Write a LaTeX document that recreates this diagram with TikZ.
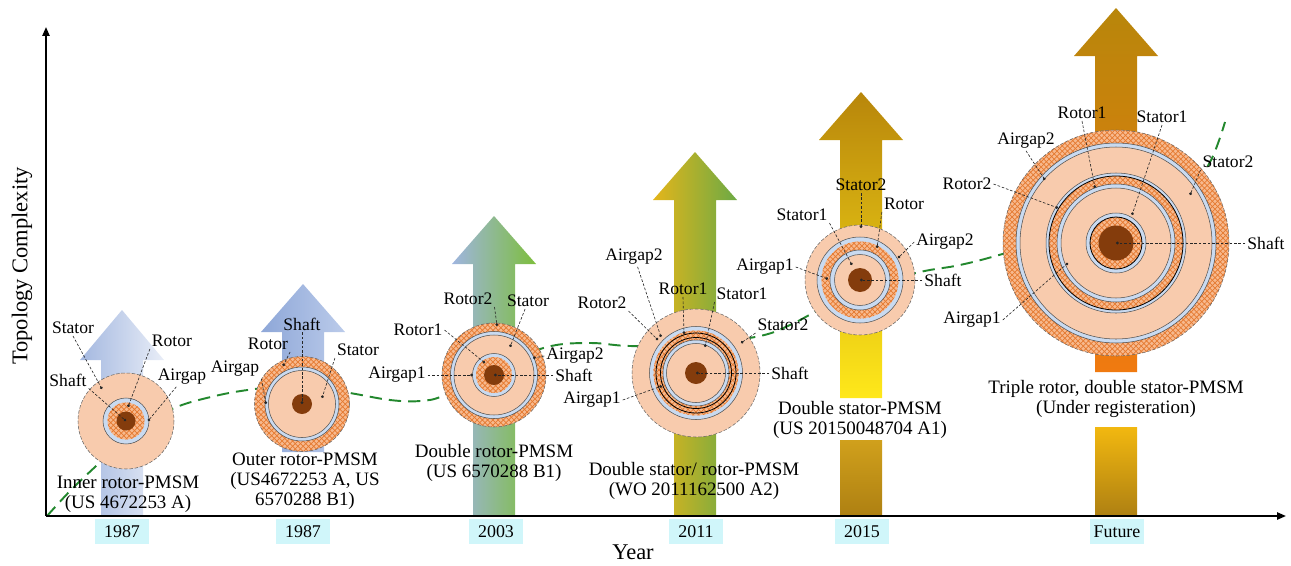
\documentclass[tikz,border=0pt]{standalone}
\usepackage{fontspec}
\setmainfont{Liberation Serif}
\usetikzlibrary{patterns,arrows.meta}

\definecolor{peach}{HTML}{F8CBAD}
\definecolor{rotorbase}{HTML}{F7B98E}
\definecolor{rotorline}{HTML}{E57A30}
\definecolor{gapblue}{HTML}{C9DAF0}
\definecolor{ringline}{HTML}{505050}
\definecolor{shaftbrown}{HTML}{843C0C}
\definecolor{trend}{HTML}{23882E}
\definecolor{yearcyan}{HTML}{D0F6FA}
\definecolor{gold}{HTML}{B8860B}
\definecolor{aOneL}{HTML}{A4B8E0}
\definecolor{aOneR}{HTML}{E8EDF7}
\definecolor{aTwoL}{HTML}{8EA7D8}
\definecolor{aTwoR}{HTML}{BBCBEA}
\definecolor{paleblue}{HTML}{9FB5E0}
\definecolor{leafgreen}{HTML}{7DBE3C}
\definecolor{amber}{HTML}{E4B51A}
\definecolor{olivegreen}{HTML}{6CAA45}
\definecolor{brightyellow}{HTML}{FFE81A}
\definecolor{midgold}{HTML}{E0B80A}
\definecolor{lowgold}{HTML}{D0A01C}
\definecolor{darkgold}{HTML}{AE8012}
\definecolor{sunyellow}{HTML}{FFC20E}
\definecolor{deeporange}{HTML}{F07A10}
\definecolor{warmyellow}{HTML}{F2B810}

% hatched rotor disc: light orange fill with a crosshatch on top
\newcommand\rotordisc[2]{%
  \fill[rotorbase] (#1) circle[radius=#2];
  \fill[pattern=crosshatch, pattern color=rotorline] (#1) circle[radius=#2];}

\begin{document}
\begin{tikzpicture}[x=0.02cm, y=-0.02cm,
  bigarrow/.style n args={4}{insert path={(#1-21,#4) -- (#1-21,#3) -- (#1-42,#3) -- (#1,#2) -- (#1+42,#3) -- (#1+21,#3) -- (#1+21,#4) -- cycle}},
  gap/.style={fill=gapblue, draw=ringline, line width=0.3pt},
  ringedge/.style={draw=ringline, line width=0.3pt},
  blackring/.style={draw=black, line width=0.45pt},
  outeredge/.style={draw=black!60, line width=0.3pt, dash pattern=on 2pt off 1pt},
  lbl/.style={font=\fontsize{10}{11}\selectfont, inner sep=1pt},
  captext/.style={font=\fontsize{10.8}{11.4}\selectfont, align=center, inner sep=1pt},
  leader/.style={draw=black!85, line width=0.35pt, dash pattern=on 1.5pt off 1pt, -{Circle[length=1.6pt]}},
  yearbox/.style={fill=yearcyan, minimum width=1.08cm, minimum height=0.5cm, inner sep=0pt, font=\fontsize{10.2}{12}\selectfont},
  axisline/.style={line width=1.1pt, -{Triangle[length=5pt, width=4pt]}},
  trendline/.style={draw=trend, line width=1.1pt, dash pattern=on 7pt off 4pt}
]
\useasboundingbox (0,0) rectangle (1291,565);

% ---------- development arrows ----------
\shade[left color=aOneL, right color=aOneR, bigarrow={122}{310}{360}{516}];
\shade[left color=aTwoL, right color=aTwoR, bigarrow={303}{284}{332}{452}];
\shade[left color=paleblue, right color=leafgreen, bigarrow={494}{216}{264}{516}];
\shade[left color=amber, right color=olivegreen, bigarrow={695}{152}{200}{516}];
\shade[top color=gold, middle color=midgold, bottom color=brightyellow, bigarrow={861}{92}{140}{398}];
\shade[top color=lowgold, bottom color=darkgold] (840,440) rectangle (882,516);
\shade[top color=gold, middle color=sunyellow, bottom color=deeporange, bigarrow={1116}{8}{56}{372}];
\shade[top color=warmyellow, bottom color=darkgold] (1095,427) rectangle (1137,516);

% ---------- trend curve ----------
\draw[trendline] plot[smooth, tension=0.6] coordinates {
  (47,516) (70,491) (95,467) (130,435) (172,409) (215,396) (255,389)
  (300,385) (350,393) (390,400) (420,401) (445,395) (495,368) (547,347)
  (590,343) (630,346) (695,345) (760,336) (790,325) (813,313) (860,288)
  (920,272) (960,265) (1006,253) (1110,222) (1185,192) (1210,162) (1225,122)};

% ---------- machine cross-sections ----------
\coordinate (c1) at (126,421);
\coordinate (c2) at (302,404);
\coordinate (c3) at (494,375);
\coordinate (c4) at (696,373);
\coordinate (c5) at (860,280);
\coordinate (c6) at (1116,243);

% inner rotor
\fill[peach] (c1) circle[radius=48]; \draw[outeredge] (c1) circle[radius=48];
\filldraw[gap] (c1) circle[radius=23];
\rotordisc{c1}{18.5}
\fill[shaftbrown] (c1) circle[radius=9.5];

% outer rotor
\rotordisc{c2}{47.5} \draw[outeredge] (c2) circle[radius=47.5];
\filldraw[gap] (c2) circle[radius=37];
\fill[peach] (c2) circle[radius=33.5]; \draw[ringedge] (c2) circle[radius=33.5];
\fill[shaftbrown] (c2) circle[radius=10];

% double rotor
\rotordisc{c3}{52} \draw[outeredge] (c3) circle[radius=52];
\filldraw[gap] (c3) circle[radius=43.5];
\fill[peach] (c3) circle[radius=40]; \draw[ringedge] (c3) circle[radius=40];
\filldraw[gap] (c3) circle[radius=21.5];
\rotordisc{c3}{18}
\fill[shaftbrown] (c3) circle[radius=10];

% double stator / rotor
\fill[peach] (c4) circle[radius=64]; \draw[outeredge] (c4) circle[radius=64];
\filldraw[gap] (c4) circle[radius=46.5];
\rotordisc{c4}{42.5}
\draw[blackring] (c4) circle[radius=40];
\draw[blackring] (c4) circle[radius=35.5];
\filldraw[gap] (c4) circle[radius=33];
\fill[peach] (c4) circle[radius=29.5]; \draw[ringedge] (c4) circle[radius=29.5];
\fill[shaftbrown] (c4) circle[radius=11];

% double stator
\fill[peach] (c5) circle[radius=55]; \draw[outeredge] (c5) circle[radius=55];
\filldraw[gap] (c5) circle[radius=43];
\rotordisc{c5}{38.5}
\filldraw[gap] (c5) circle[radius=30];
\fill[peach] (c5) circle[radius=25.5]; \draw[ringedge] (c5) circle[radius=25.5];
\fill[shaftbrown] (c5) circle[radius=12];

% triple rotor, double stator
\rotordisc{c6}{113} \draw[outeredge] (c6) circle[radius=113];
\filldraw[gap] (c6) circle[radius=100];
\fill[peach] (c6) circle[radius=96]; \draw[ringedge] (c6) circle[radius=96];
\filldraw[gap] (c6) circle[radius=70];
\rotordisc{c6}{67} \draw[blackring] (c6) circle[radius=67];
\filldraw[gap] (c6) circle[radius=59];
\fill[peach] (c6) circle[radius=55]; \draw[ringedge] (c6) circle[radius=55];
\filldraw[gap] (c6) circle[radius=30];
\rotordisc{c6}{26} \draw[blackring] (c6) circle[radius=26];
\fill[shaftbrown] (c6) circle[radius=17.5];

% ---------- part labels and leaders ----------
% inner rotor
\node[lbl] (c1st) at (73,328) {Stator};
\node[lbl] (c1ro) at (172,341) {Rotor};
\node[lbl] (c1sh) at (68,380) {Shaft};
\node[lbl] (c1ag) at (182,377) {Airgap};
\coordinate (c1stp) at (102,389);
\coordinate (c1rop) at (128,407);
\coordinate (c1agp) at (148,421);
\draw[leader] (c1st.south) -- (c1stp);
\draw[leader] (c1ro.south west) -- (c1rop);
\draw[leader] (c1sh.south east) -- (c1);
\draw[leader] (c1ag.240) -- (c1agp);
\node[captext] (c1cap) at (128,494) {Inner rotor-PMSM\\(US 4672253 A)};

% outer rotor
\node[lbl] (c2sh) at (302,324) {Shaft};
\node[lbl] (c2ro) at (268,344) {Rotor};
\node[lbl] (c2st) at (358,350) {Stator};
\node[lbl] (c2ag) at (235,369) {Airgap};
\coordinate (c2rop) at (283,366);
\coordinate (c2stp) at (322,398);
\coordinate (c2agp) at (266,404);
\draw[leader] (c2sh.south) -- (c2);
\draw[leader] (c2ro.south east) -- (c2rop);
\draw[leader] (c2st.south west) -- (c2stp);
\draw[leader] (c2ag.south east) -- (c2agp);
\node[captext] (c2cap) at (305,481) {Outer rotor-PMSM\\(US4672253 A, US\\6570288 B1)};

% double rotor
\node[lbl] (c3r2) at (468,299) {Rotor2};
\node[lbl] (c3st) at (528,301) {Stator};
\node[lbl] (c3r1) at (418,330) {Rotor1};
\node[lbl] (c3a1) at (397,375) {Airgap1};
\node[lbl] (c3a2) at (575,356) {Airgap2};
\node[lbl] (c3sh) at (574,375) {Shaft};
\coordinate (c3r2p) at (497,326);
\coordinate (c3stp) at (510,347);
\coordinate (c3r1p) at (485,363);
\coordinate (c3a1p) at (473,375);
\coordinate (c3a2p) at (533,358);
\draw[leader] (c3r2.south east) -- (c3r2p);
\draw[leader] (c3st.250) -- (c3stp);
\draw[leader] (c3r1.east) -- (c3r1p);
\draw[leader] (c3a1.east) -- (c3a1p);
\draw[leader] (c3a2.west) -- (c3a2p);
\draw[leader] (c3sh.west) -- (c3);
\node[captext] (c3cap) at (494,463) {Double rotor-PMSM\\(US 6570288 B1)};

% double stator / rotor
\node[lbl] (c4a2) at (634,257) {Airgap2};
\node[lbl] (c4r1) at (683,289) {Rotor1};
\node[lbl] (c4s1) at (742,294) {Stator1};
\node[lbl] (c4r2) at (602,303) {Rotor2};
\node[lbl] (c4s2) at (783,325) {Stator2};
\node[lbl] (c4sh) at (790,373) {Shaft};
\node[lbl] (c4a1) at (592,400) {Airgap1};
\coordinate (c4a2p) at (661,337);
\coordinate (c4r1p) at (684,334);
\coordinate (c4s1p) at (705,347);
\coordinate (c4r2p) at (658,340);
\coordinate (c4s2p) at (741,343);
\coordinate (c4a1p) at (662,386);
\draw[leader] (c4a2.290) -- (c4a2p);
\draw[leader] (c4r1.south) -- (c4r1p);
\draw[leader] (c4s1.south west) -- (c4s1p);
\draw[leader] (c4r2.south east) -- (c4r2p);
\draw[leader] (c4s2.south west) -- (c4s2p);
\draw[leader] (c4sh.west) -- (c4);
\draw[leader] (c4a1.east) -- (c4a1p);
\node[captext] (c4cap) at (694,481) {Double stator/ rotor-PMSM\\(WO 2011162500 A2)};

% double stator
\node[lbl] (c5s2) at (861,185) {Stator2};
\node[lbl] (c5ro) at (904,204) {Rotor};
\node[lbl] (c5s1) at (802,215) {Stator1};
\node[lbl] (c5a2) at (945,242) {Airgap2};
\node[lbl] (c5a1) at (765,267) {Airgap1};
\node[lbl] (c5sh) at (943,280) {Shaft};
\coordinate (c5s2p) at (861,228);
\coordinate (c5rop) at (877,248);
\coordinate (c5s1p) at (852,265);
\coordinate (c5a2p) at (898,258);
\coordinate (c5a1p) at (828,279);
\draw[leader] (c5s2.south) -- (c5s2p);
\draw[leader] (c5ro.south west) -- (c5rop);
\draw[leader] (c5s1.south east) -- (c5s1p);
\draw[leader] (c5a2.west) -- (c5a2p);
\draw[leader] (c5a1.east) -- (c5a1p);
\draw[leader] (c5sh.west) -- (c5);
\node[captext] (c5cap) at (860,420) {Double stator-PMSM\\(US 20150048704 A1)};

% triple rotor, double stator
\node[lbl] (c6r1) at (1082,113) {Rotor1};
\node[lbl] (c6s1) at (1162,117) {Stator1};
\node[lbl] (c6a2) at (1026,141) {Airgap2};
\node[lbl] (c6r2) at (967,184) {Rotor2};
\node[lbl] (c6s2) at (1228,162) {Stator2};
\node[lbl] (c6sh) at (1266,243) {Shaft};
\node[lbl] (c6a1) at (972,320) {Airgap1};
\coordinate (c6r1p) at (1095,188);
\coordinate (c6s1p) at (1132,215);
\coordinate (c6a2p) at (1045,180);
\coordinate (c6r2p) at (1058,208);
\coordinate (c6s2p) at (1190,195);
\coordinate (c6a1p) at (1068,263);
\draw[leader] (c6r1.south) -- (c6r1p);
\draw[leader] (c6s1.south) -- (c6s1p);
\draw[leader] (c6a2.south) -- (c6a2p);
\draw[leader] (c6r2.east) -- (c6r2p);
\draw[leader] (c6s2.south west) -- (c6s2p);
\draw[leader] (c6sh.west) -- (c6);
\draw[leader] (c6a1.east) -- (c6a1p);
\node[captext] (c6cap) at (1116,399) {Triple rotor, double stator-PMSM\\(Under registeration)};

% ---------- axes ----------
\coordinate (origin) at (46,516);
\coordinate (ytip) at (46,27);
\coordinate (xtip) at (1286,516);
\draw[axisline] (origin) -- (ytip);
\draw[axisline] (origin) -- (xtip);
\node[rotate=90, font=\fontsize{12.8}{15}\selectfont] (ylab) at (22,266) {Topology Complexity};
\node[font=\fontsize{12.8}{15}\selectfont] (xlab) at (633,552) {Year};

% ---------- year tags ----------
\node[yearbox] (y1) at (122,531.5) {1987};
\node[yearbox] (y2) at (303,531.5) {1987};
\node[yearbox] (y3) at (496,531.5) {2003};
\node[yearbox] (y4) at (696,531.5) {2011};
\node[yearbox] (y5) at (862,531.5) {2015};
\node[yearbox] (y6) at (1117,531.5) {Future};
\end{tikzpicture}
\end{document}
